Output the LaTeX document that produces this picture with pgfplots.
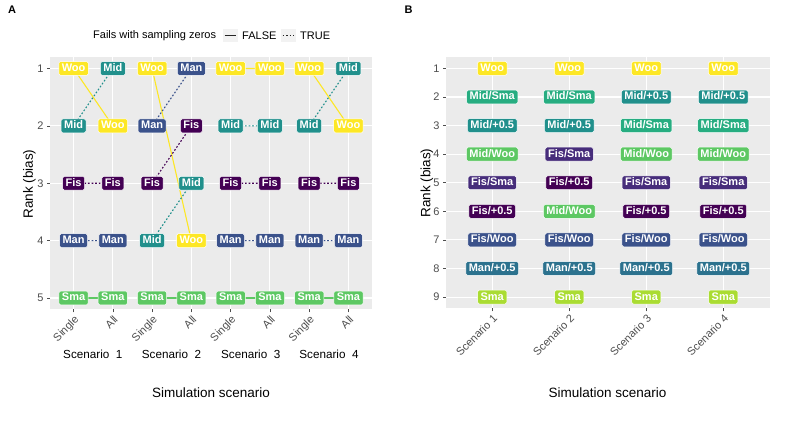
\documentclass[border=0pt]{standalone}
\usepackage{pgfplots}
\pgfplotsset{compat=1.18}
\usepackage{fontspec}
\setmainfont{Liberation Sans}

\definecolor{cFis}{HTML}{440154}
\definecolor{cMan}{HTML}{3B528B}
\definecolor{cMid}{HTML}{21908C}
\definecolor{cSma}{HTML}{5DC863}
\definecolor{cWoo}{HTML}{FDE725}
\definecolor{bFisP}{HTML}{440154}
\definecolor{bFisS}{HTML}{472D7B}
\definecolor{bFisW}{HTML}{3B528B}
\definecolor{bManP}{HTML}{2C728E}
\definecolor{bMidP}{HTML}{21908C}
\definecolor{bMidS}{HTML}{27AD81}
\definecolor{bMidW}{HTML}{5DC863}
\definecolor{bSma}{HTML}{AADC32}
\definecolor{bWoo}{HTML}{FDE725}
\definecolor{panelbg}{HTML}{EBEBEB}
\definecolor{keybg}{HTML}{F2F2F2}
\definecolor{tickgray}{HTML}{4D4D4D}

\pgfplotsset{
  gg/.style={
    scale only axis,
    axis background/.style={fill=panelbg},
    axis line style={draw=none},
    grid=major,
    major grid style={white, line width=1.1pt},
    tick align=outside,
    major tick length=3pt,
    xtick pos=bottom, ytick pos=left,
    tick style={tickgray, line width=0.6pt},
    y dir=reverse,
    ticklabel style={font=\fontsize{11}{13}\selectfont, text=tickgray},
    /pgf/number format/assume math mode=true,
  },
  lab/.style 2 args={
    draw=none, nodes near coords={#2},
    nodes near coords style={anchor=center, fill=#1, draw=white,
      line width=0.5pt, text=white, rounded corners=1.6pt,
      inner xsep=3pt, inner ysep=1.9pt, text height=8pt, text depth=2.1pt,
      font=\fontsize{11}{13}\selectfont\bfseries},
  },
  solidln/.style={#1, line width=1.1pt, unbounded coords=jump},
  dotln/.style={#1, line width=1.1pt, dash pattern=on 1.7pt off 1.9pt, unbounded coords=jump},
}

\begin{document}
\begin{tikzpicture}
\useasboundingbox (0,0) rectangle (793pt,-427pt);

% ---- panel A
\begin{axis}[gg,
  at={(211pt,-183.25pt)}, anchor=center,
  width=322pt, height=252.5pt,
  xmin=0.4, xmax=8.6, ymin=0.8, ymax=5.2,
  xtick={1,...,8},
  xticklabels={Single,All,Single,All,Single,All,Single,All},
  xticklabel style={rotate=45, anchor=north east, inner sep=1.5pt},
  ytick={1,...,5},
]
\addplot[solidln=cWoo] coordinates {(1,1)(2,2)(2.5,nan)(3,1)(4,4)(4.5,nan)(5,1)(6,1)(6.5,nan)(7,1)(8,2)};
\addplot[dotln=cMid] coordinates {(1,2)(2,1)(2.5,nan)(3,4)(4,3)(4.5,nan)(5,2)(6,2)(6.5,nan)(7,2)(8,1)};
\addplot[dotln=cFis] coordinates {(1,3)(2,3)(2.5,nan)(3,3)(4,2)(4.5,nan)(5,3)(6,3)(6.5,nan)(7,3)(8,3)};
\addplot[dotln=cMan] coordinates {(1,4)(2,4)(2.5,nan)(3,2)(4,1)(4.5,nan)(5,4)(6,4)(6.5,nan)(7,4)(8,4)};
\addplot[solidln=cSma] coordinates {(1,5)(2,5)(2.5,nan)(3,5)(4,5)(4.5,nan)(5,5)(6,5)(6.5,nan)(7,5)(8,5)};

\addplot[lab={cWoo}{Woo}] coordinates {(1,1)(2,2)(3,1)(4,4)(5,1)(6,1)(7,1)(8,2)};
\addplot[lab={cMid}{Mid}] coordinates {(1,2)(2,1)(3,4)(4,3)(5,2)(6,2)(7,2)(8,1)};
\addplot[lab={cFis}{Fis}] coordinates {(1,3)(2,3)(3,3)(4,2)(5,3)(6,3)(7,3)(8,3)};
\addplot[lab={cMan}{Man}] coordinates {(1,4)(2,4)(3,2)(4,1)(5,4)(6,4)(7,4)(8,4)};
\addplot[lab={cSma}{Sma}] coordinates {(1,5)(2,5)(3,5)(4,5)(5,5)(6,5)(7,5)(8,5)};
\end{axis}

% ---- panel B
\begin{axis}[gg,
  at={(607.75pt,-182.75pt)}, anchor=center,
  width=323.5pt, height=251.5pt,
  xmin=0.4, xmax=4.6, ymin=0.6, ymax=9.4,
  xtick={1,...,4},
  xticklabels={Scenario 1,Scenario 2,Scenario 3,Scenario 4},
  xticklabel style={rotate=45, anchor=north east, inner sep=1.5pt},
  ytick={1,...,9},
]
\addplot[lab={bWoo}{Woo}] coordinates {(1,1)(2,1)(3,1)(4,1)};
\addplot[lab={bMidS}{Mid/Sma}] coordinates {(1,2)(2,2)(3,3)(4,3)};
\addplot[lab={bMidP}{Mid/+0.5}] coordinates {(1,3)(2,3)(3,2)(4,2)};
\addplot[lab={bMidW}{Mid/Woo}] coordinates {(1,4)(2,6)(3,4)(4,4)};
\addplot[lab={bFisS}{Fis/Sma}] coordinates {(1,5)(2,4)(3,5)(4,5)};
\addplot[lab={bFisP}{Fis/+0.5}] coordinates {(1,6)(2,5)(3,6)(4,6)};
\addplot[lab={bFisW}{Fis/Woo}] coordinates {(1,7)(2,7)(3,7)(4,7)};
\addplot[lab={bManP}{Man/+0.5}] coordinates {(1,8)(2,8)(3,8)(4,8)};
\addplot[lab={bSma}{Sma}] coordinates {(1,9)(2,9)(3,9)(4,9)};
\end{axis}

% ---- texts
\node[font=\fontsize{11}{13}\selectfont\bfseries, anchor=west] at (4.5pt,-9.7pt) {A};
\node[font=\fontsize{11}{13}\selectfont\bfseries, anchor=west] at (401pt,-9.7pt) {B};

\node[font=\fontsize{13.5}{15}\selectfont, rotate=90] at (29.5pt,-184pt) {Rank (bias)};
\node[font=\fontsize{13.5}{15}\selectfont, rotate=90] at (427pt,-183pt) {Rank (bias)};
\node[font=\fontsize{13.5}{15}\selectfont] at (211pt,-393pt) {Simulation scenario};
\node[font=\fontsize{13.5}{15}\selectfont] at (607.5pt,-393pt) {Simulation scenario};

\foreach \xx/\s in {92.8/1,171.5/2,250.7/3,329/4}
  \node[font=\fontsize{11.7}{13}\selectfont] at (\xx pt,-354.5pt) {Scenario\ \ \s};

% legend
\node[font=\fontsize{11}{13}\selectfont, anchor=west, inner sep=0pt] at (93pt,-35.5pt) {Fails with sampling zeros};
\fill[keybg] (223pt,-29pt) rectangle (237.5pt,-42.5pt);
\draw[black!85, line width=1.1pt] (224.5pt,-35.75pt) -- (236pt,-35.75pt);
\node[font=\fontsize{11}{13}\selectfont, anchor=west, inner sep=0pt] at (242pt,-35.5pt) {FALSE};
\fill[keybg] (281pt,-29pt) rectangle (295.5pt,-42.5pt);
\draw[black!85, line width=1.1pt, dash pattern=on 1.7pt off 1.9pt] (282.5pt,-35.75pt) -- (294pt,-35.75pt);
\node[font=\fontsize{11}{13}\selectfont, anchor=west, inner sep=0pt] at (300pt,-35.5pt) {TRUE};
\end{tikzpicture}
\end{document}
